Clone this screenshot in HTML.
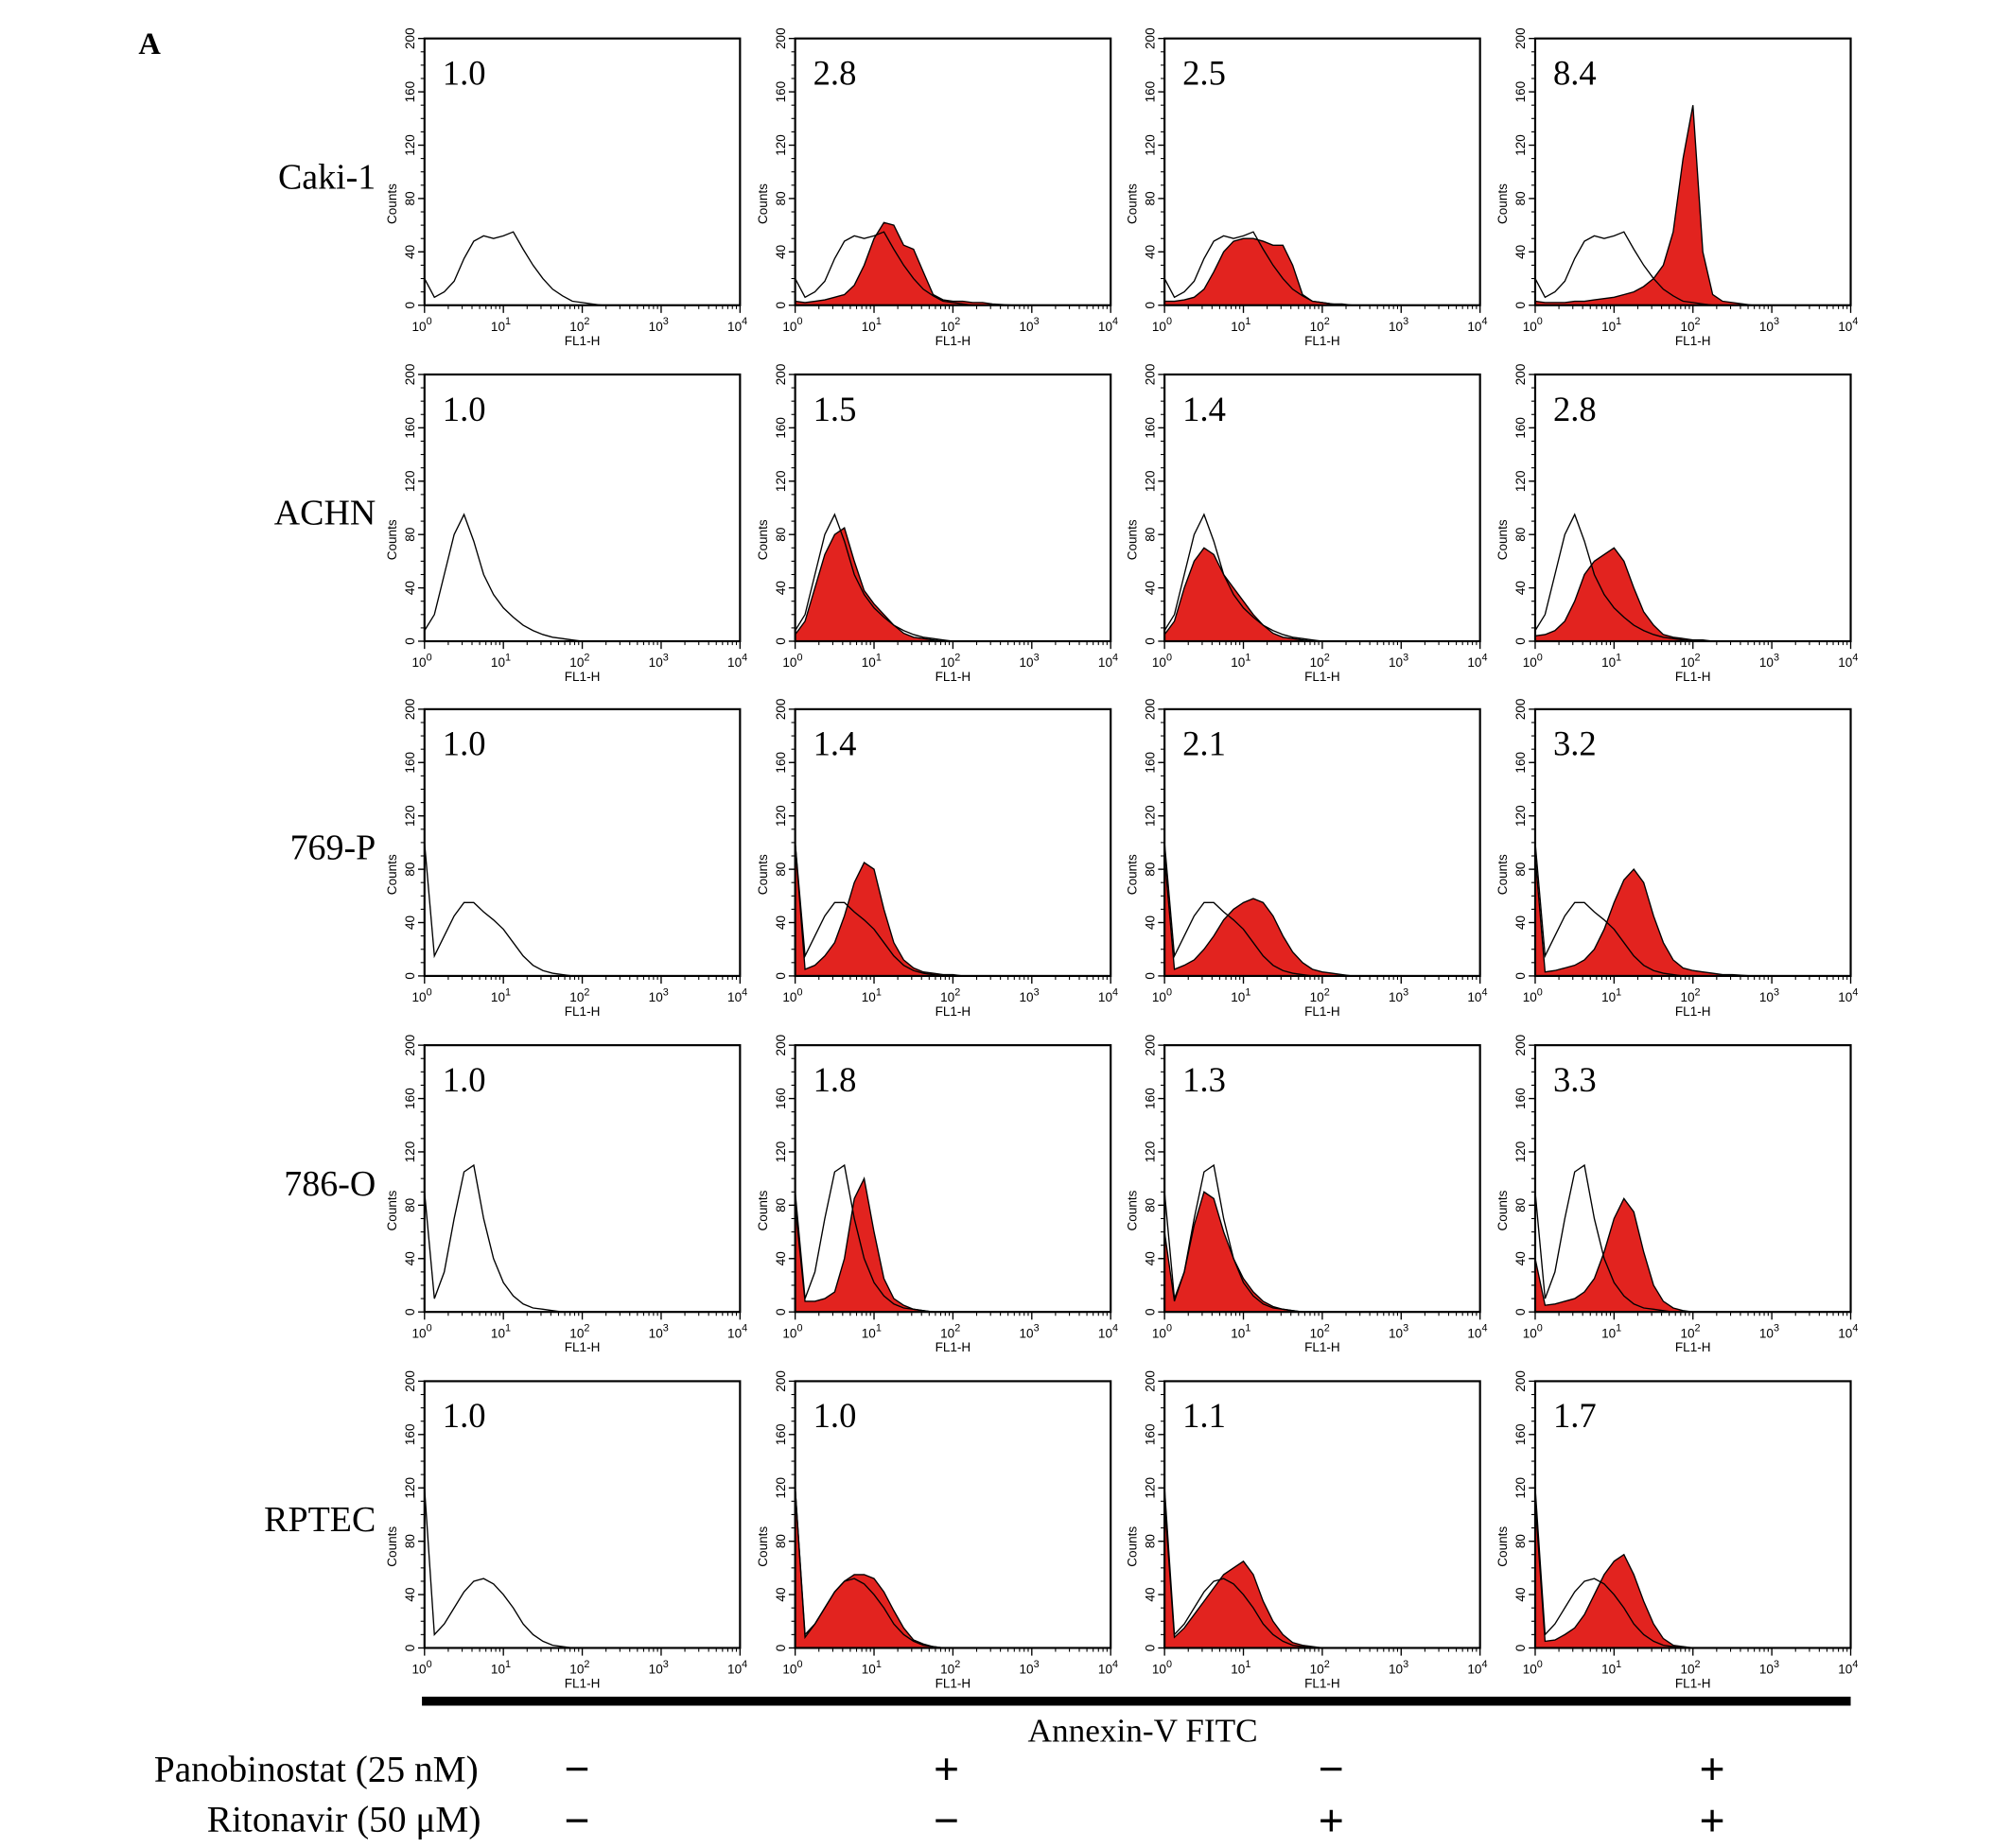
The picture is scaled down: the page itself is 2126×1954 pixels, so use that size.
<!DOCTYPE html>
<html><head><meta charset="utf-8"><style>
html,body{margin:0;padding:0;background:#fff;}
svg{display:block;}
</style></head><body>
<svg id="fig" width="2126" height="1954" viewBox="0 0 1568 1441" preserveAspectRatio="none" xmlns="http://www.w3.org/2000/svg">
<text x="108" y="42" font-family="Liberation Serif, serif" font-weight="bold" font-size="24">A</text>
<rect x="329" y="1323" width="1114" height="7" fill="#000"/>
<text x="891" y="1358" text-anchor="middle" font-family="Liberation Serif, serif" font-size="26">Annexin-V FITC</text>
<text x="373" y="1389" text-anchor="end" font-family="Liberation Serif, serif" font-size="29">Panobinostat (25 nM)</text>
<text x="375" y="1428" text-anchor="end" font-family="Liberation Serif, serif" font-size="29">Ritonavir (50 μM)</text>
<g id="plots"></g>
</svg>
<script>
const rowLabels = ["Caki-1","ACHN","769-P","786-O","RPTEC"];
const foldValues = [["1.0","2.8","2.5","8.4"],["1.0","1.5","1.4","2.8"],["1.0","1.4","2.1","3.2"],["1.0","1.8","1.3","3.3"],["1.0","1.0","1.1","1.7"]];
const panoSigns = ["−","+","−","+"];
const ritoSigns = ["−","−","+","+"];
const yTicks = [0,40,80,120,160,200];
const xTickExp = [0,1,2,3,4];
// log10 FL1-H positions (0..2.5 step 0.125)
const logX = [0,0.125,0.25,0.375,0.5,0.625,0.75,0.875,1,1.125,1.25,1.375,1.5,1.625,1.75,1.875,2,2.125,2.25,2.375,2.5];
const control = [
 [20,6,10,18,35,48,52,50,52,55,42,30,20,12,7,3,2,1,0,0,0],
 [8,20,50,80,95,75,50,35,25,18,12,8,5,3,2,1,0,0,0,0,0],
 [100,15,30,45,55,55,48,42,35,25,15,8,4,2,1,0,0,0,0,0,0],
 [90,10,30,70,105,110,70,40,22,12,6,3,2,1,0,0,0,0,0,0,0],
 [120,10,18,30,42,50,52,48,40,30,18,10,5,2,1,0,0,0,0,0,0]
];
const treated = [
 [[3,2,3,4,6,8,15,30,50,62,60,45,42,25,8,4,3,3,2,2,1],
  [3,3,4,6,12,25,40,48,50,50,48,45,45,30,8,3,2,1,1,0,0],
  [3,2,2,2,3,3,4,5,6,8,10,14,20,30,55,110,150,40,8,3,2]],
 [[5,15,40,65,80,85,60,38,28,20,12,6,3,2,1,0,0,0,0,0,0],
  [5,15,40,60,70,65,50,40,30,20,12,6,3,2,1,0,0,0,0,0,0],
  [4,5,8,15,30,50,60,65,70,60,40,22,12,5,3,2,1,1,0,0,0]],
 [[100,5,8,15,25,45,70,85,80,50,25,12,6,3,2,1,1,0,0,0,0],
  [90,5,8,12,20,30,42,50,55,58,55,45,30,18,10,5,3,2,1,0,0],
  [90,3,4,6,8,12,20,35,55,72,80,70,45,25,12,6,4,3,2,1,1]],
 [[80,8,8,10,15,40,85,100,60,25,10,5,2,1,0,0,0,0,0,0,0],
  [60,8,30,65,90,85,60,40,25,15,8,4,2,1,0,0,0,0,0,0,0],
  [40,5,6,8,10,15,25,45,70,85,75,45,20,8,3,1,0,0,0,0,0]],
 [[120,8,18,30,42,50,55,55,52,42,28,15,6,3,1,0,0,0,0,0,0],
  [110,8,15,25,35,45,55,60,65,55,35,20,10,4,2,1,0,0,0,0,0],
  [110,5,6,10,15,25,40,55,65,70,55,35,18,7,2,1,0,0,0,0,0]]
];
const NS="http://www.w3.org/2000/svg";
const root=document.getElementById('plots');
function mk(tag,attrs,parent){const e=document.createElementNS(NS,tag);for(const k in attrs)e.setAttribute(k,attrs[k]);(parent||root).appendChild(e);return e;}
const colX=[331,620,908,1197], boxW=246;
const rowTop=[30,292,553,815,1077], boxH=208;
const signX=[450,738,1038,1335];
for(let r=0;r<5;r++){
  const lab=mk('text',{x:293,y:rowTop[r]+117,'text-anchor':'end','font-family':'Liberation Serif, serif','font-size':28});
  lab.textContent=rowLabels[r];
  
  
  for(let c=0;c<4;c++){
    const L=colX[c],T=rowTop[r],B=T+boxH,R=L+boxW;
    const g=mk('g',{});
    
    
    const xs=v=>L+v/4*boxW, ys=v=>B-v/200*boxH;
    function pathOf(arr){let d='M'+xs(0)+','+ys(0);for(let i=0;i<logX.length;i++){d+=' L'+xs(logX[i]).toFixed(1)+','+ys(arr[i]).toFixed(1);}d+=' L'+xs(2.75)+','+ys(0);return d;}
    if(c>0){const p=mk('path',{d:pathOf(treated[r][c-1])+' Z',fill:'#e2231f',stroke:'#000','stroke-width':1},g);
      
      }
    const cp=mk('path',{d:pathOf(control[r]),fill:'none',stroke:'#000','stroke-width':1},g);
    
    
    mk('rect',{x:L,y:T,width:boxW,height:boxH,fill:'none',stroke:'#000','stroke-width':1.6},g);
    yTicks.forEach(t=>{
      mk('line',{x1:L-5,x2:L,y1:ys(t),y2:ys(t),stroke:'#000','stroke-width':1},g);
      const tx=mk('text',{x:0,y:0,transform:`translate(${L-8},${ys(t)}) rotate(-90)`,'text-anchor':'middle','font-family':'Liberation Sans, sans-serif','font-size':10},g);
      tx.textContent=t;
    });
    for(let t=10;t<200;t+=10){mk('line',{x1:L-3,x2:L,y1:ys(t),y2:ys(t),stroke:'#000','stroke-width':0.8},g);}
    const yl=mk('text',{x:0,y:0,transform:`translate(${L-22},${T+boxH*0.62}) rotate(-90)`,'text-anchor':'middle','font-family':'Liberation Sans, sans-serif','font-size':10},g);
    yl.textContent='Counts';
    xTickExp.forEach(e=>{
      mk('line',{x1:xs(e),x2:xs(e),y1:B,y2:B+6,stroke:'#000','stroke-width':1},g);
      const tx=mk('text',{x:xs(e)-2,y:B+20,'text-anchor':'middle','font-family':'Liberation Sans, sans-serif','font-size':10},g);
      tx.textContent='10';
      const sp=mk('tspan',{dy:-5,'font-size':8},tx);sp.textContent=e;
      if(e<4)for(let m=2;m<10;m++){const xm=xs(e+Math.log10(m));mk('line',{x1:xm,x2:xm,y1:B,y2:B+3,stroke:'#000','stroke-width':0.8},g);}
    });
    const xl=mk('text',{x:L+boxW/2,y:B+31,'text-anchor':'middle','font-family':'Liberation Sans, sans-serif','font-size':10},g);
    xl.textContent='FL1-H';
    const fv=mk('text',{x:L+14,y:T+36,'font-family':'Liberation Serif, serif','font-size':27},g);
    fv.textContent=foldValues[r][c];
    
    
  }
}
for(let c=0;c<4;c++){
  const a=mk('text',{x:signX[c],y:1391,'text-anchor':'middle','font-family':'Liberation Sans, sans-serif','font-size':34});
  a.textContent=panoSigns[c];
  
  
  const b=mk('text',{x:signX[c],y:1431,'text-anchor':'middle','font-family':'Liberation Sans, sans-serif','font-size':34});
  b.textContent=ritoSigns[c];
  
  
}
</script>
</body></html>
